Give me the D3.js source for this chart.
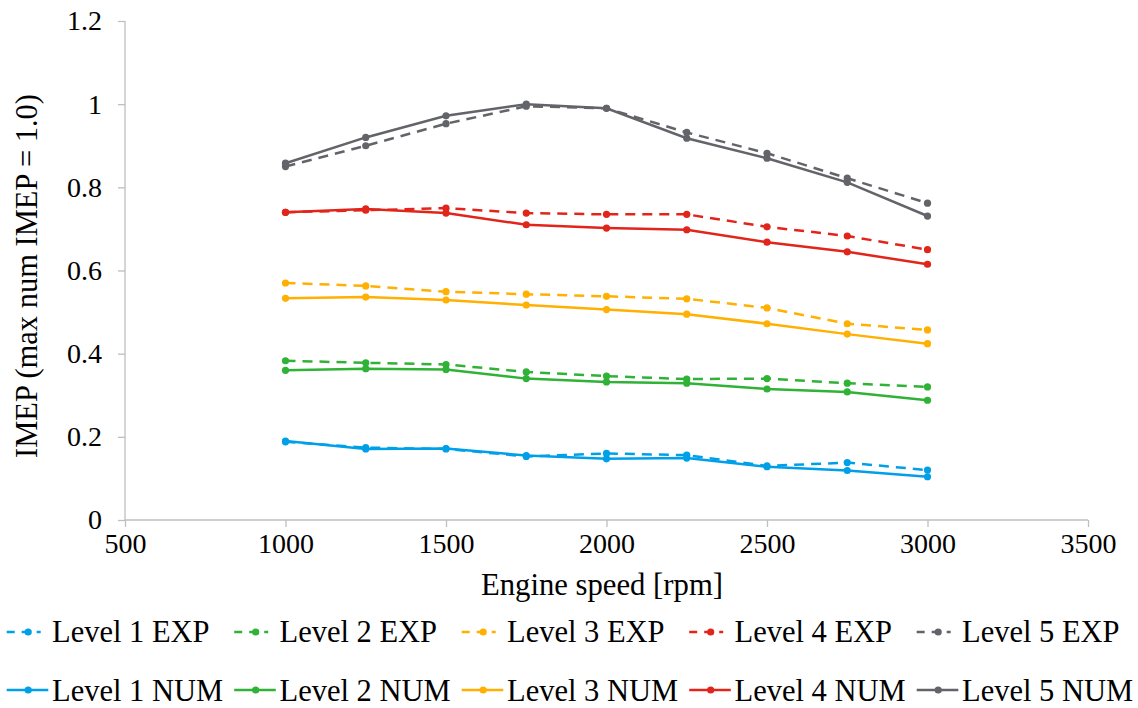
<!DOCTYPE html>
<html><head><meta charset="utf-8">
<script src="https://cdn.jsdelivr.net/npm/d3@7"></script>
</head><body style="margin:0">
<script>
const speeds = [1000,1250,1500,1750,2000,2250,2500,2750,3000];
const level1Exp = [0.188,0.174,0.171,0.153,0.160,0.156,0.130,0.138,0.120];
const level2Exp = [0.383,0.378,0.374,0.356,0.346,0.339,0.340,0.329,0.320];
const level3Exp = [0.570,0.563,0.549,0.543,0.538,0.532,0.510,0.472,0.457];
const level4Exp = [0.740,0.745,0.750,0.738,0.735,0.735,0.705,0.683,0.650];
const level5Exp = [0.850,0.900,0.953,0.995,0.990,0.932,0.882,0.822,0.762];
const level1Num = [0.190,0.171,0.172,0.155,0.147,0.149,0.128,0.119,0.104];
const level2Num = [0.360,0.364,0.362,0.340,0.332,0.329,0.315,0.308,0.288];
const level3Num = [0.533,0.536,0.529,0.517,0.506,0.495,0.472,0.447,0.424];
const level4Num = [0.740,0.748,0.738,0.710,0.702,0.698,0.668,0.645,0.615];
const level5Num = [0.858,0.920,0.972,1.000,0.990,0.918,0.870,0.812,0.731];
const xTicks = [500,1000,1500,2000,2500,3000,3500];
const yTicks = [0,0.2,0.4,0.6,0.8,1.0,1.2];
const seriesNames = ["Level 1 EXP","Level 2 EXP","Level 3 EXP","Level 4 EXP","Level 5 EXP",
                     "Level 1 NUM","Level 2 NUM","Level 3 NUM","Level 4 NUM","Level 5 NUM"];
const colors = ["#00a0e9","#2fb236","#ffb000","#e1251b","#636469"];

const series = [level1Exp,level2Exp,level3Exp,level4Exp,level5Exp,level1Num,level2Num,level3Num,level4Num,level5Num]
  .map((vals,i)=>({name:seriesNames[i], color:colors[i%5], dashed:i<5, values:vals}));

const fam="Liberation Serif";
const W=1138,H=708;
const svg=d3.select("body").append("svg").attr("width",W).attr("height",H)
  .style("display","block").style("font-family",`"${fam}"`);
const x=d3.scaleLinear().domain([500,3500]).range([125,1088]);
const y=d3.scaleLinear().domain([0,1.2]).range([520,21]);
const axisColor="#bfbfbf";
function serif(sel,size){ return sel.style("font-family",`"${fam}"`).attr("font-size",size); }

// axes
const gx=svg.append("g").attr("transform","translate(0,520)")
  .call(d3.axisBottom(x).tickValues(xTicks).tickSize(7).tickPadding(6).tickFormat(d3.format("d")));
const gy=svg.append("g").attr("transform","translate(125,0)")
  .call(d3.axisLeft(y).tickValues(yTicks).tickSize(7).tickPadding(16).tickFormat(d=>String(+d.toFixed(1))));
[gx,gy].forEach(g=>{
  g.attr("font-family",null).attr("font-size",null);
  g.select(".domain").attr("stroke",axisColor).attr("stroke-width",1.3);
  g.selectAll(".tick line").attr("stroke",axisColor).attr("stroke-width",1.3);
  serif(g.selectAll("text"),28).attr("fill","#000");
});
gx.select(".domain").attr("d","M125,0H1088");
gy.select(".domain").attr("d","M0,520V21");

// titles
serif(svg.append("text").attr("x",602).attr("y",595).attr("text-anchor","middle"),30.7)
  .text("Engine speed [rpm]");
serif(svg.append("text").attr("transform","translate(37,276) rotate(-90)").attr("text-anchor","middle"),30.5)
  .text("IMEP (max num IMEP = 1.0)");

// lines
const line=d3.line().x((d,i)=>x(speeds[i])).y(d=>y(d));
const drawOrder=[5,6,7,8,9,0,1,2,3,4];
drawOrder.forEach(k=>{
  const s=series[k];
  const g=svg.append("g");
  g.append("path").attr("d",line(s.values)).attr("fill","none").attr("stroke",s.color)
    .attr("stroke-width",2.5).attr("stroke-dasharray",s.dashed?"10,7":null);
  g.selectAll("circle").data(s.values).join("circle")
    .attr("cx",(d,i)=>x(speeds[i])).attr("cy",d=>y(d)).attr("r",3.6).attr("fill",s.color);
});

// legend
const colX=[6.7,234.2,461.7,689.2,916.7];
const rowY=[632,690];
series.forEach((s,i)=>{
  const r=s.dashed?0:1, c=i%5;
  const g=svg.append("g").attr("transform",`translate(${colX[c]},${rowY[r]})`);
  g.append("line").attr("x1",0).attr("x2",s.dashed?34:41.6).attr("y1",0).attr("y2",0)
    .attr("stroke",s.color).attr("stroke-width",2.5).attr("stroke-dasharray",s.dashed?"8,7":null);
  g.append("circle").attr("cx",21.5).attr("cy",0).attr("r",3.6).attr("fill",s.color);
  serif(g.append("text").attr("x",45.3).attr("y",s.dashed?10.3:10.7),30.5).text(s.name);
});
</script>
</body></html>
